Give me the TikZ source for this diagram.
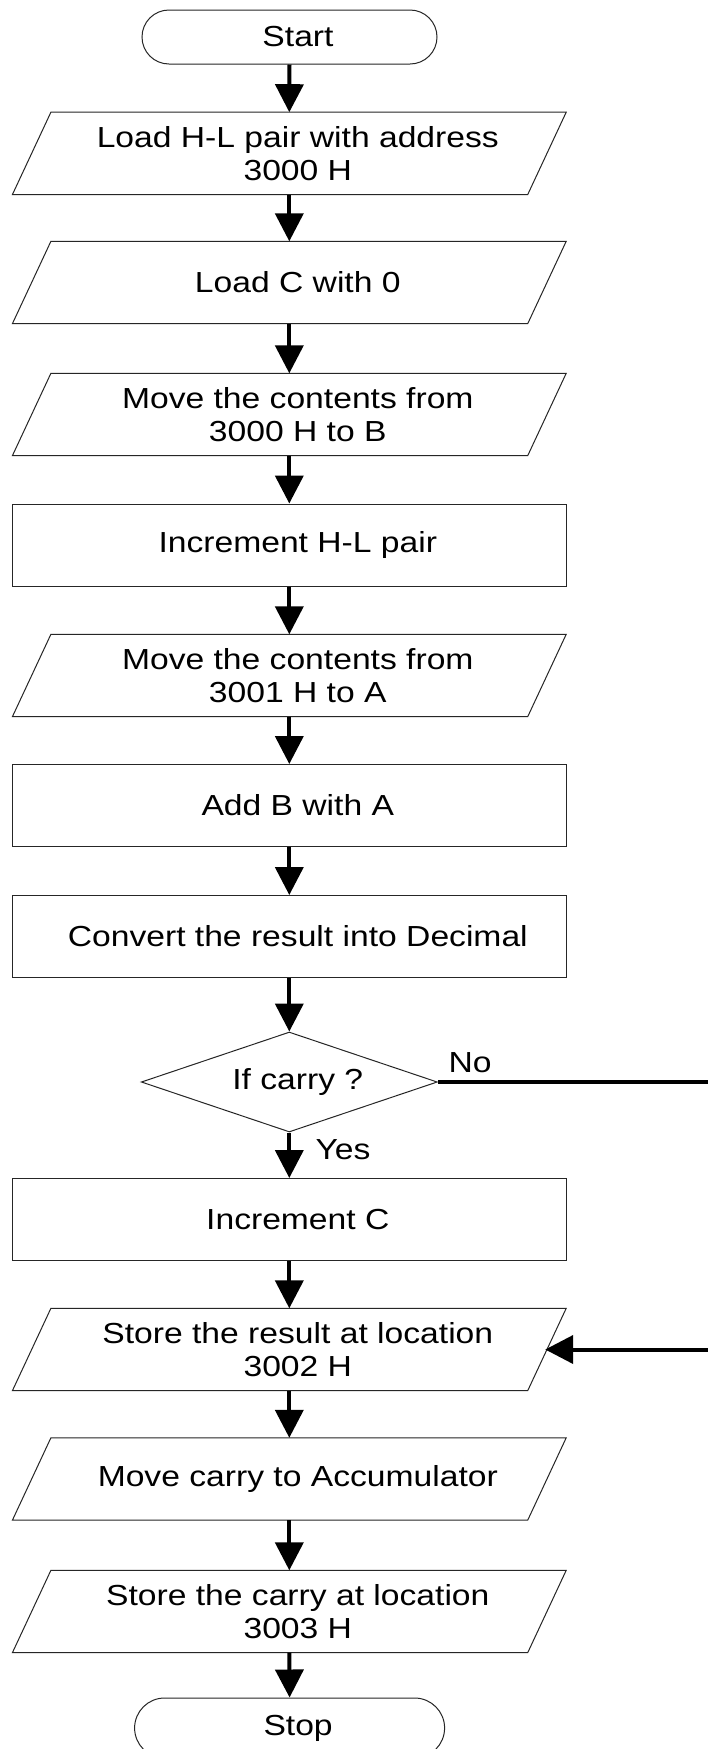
\documentclass[tikz,border=0pt]{standalone}
\usepackage{fontspec}
\setmainfont{Liberation Sans}[FakeStretch=1.16]
\usetikzlibrary{arrows.meta,calc,shapes.geometric}
\newcommand\tl{\hspace*{17pt}}
\begin{document}
\begin{tikzpicture}[x=1pt,y=1pt,
  every node/.style={font=\fontsize{29}{33}\selectfont, align=center, inner sep=0pt},
  shapeline/.style={draw=black!85, line width=1pt},
  term/.style={shapeline, rounded corners=27pt, minimum height=54pt, minimum width=295pt},
  proc/.style={shapeline, minimum width=553.4pt, minimum height=82pt},
  io/.style={minimum width=553.4pt, minimum height=82pt,
    append after command={\pgfextra{\draw[shapeline]
      ($(\tikzlastnode.north west)+(38.5pt,0pt)$) -- (\tikzlastnode.north east)
      -- ($(\tikzlastnode.south east)+(-38.5pt,0pt)$) -- (\tikzlastnode.south west) -- cycle;}}},
  dec/.style={shapeline, diamond, minimum width=296pt, minimum height=100pt, aspect=2.96},
  flow/.style={line width=4pt, -{Triangle[width=28pt,length=28pt]}},
]
\useasboundingbox (0,0) rectangle (708,-1749);
\fill[white] (0,0) rectangle (708,-1749);

\node[term] (start) at (289.5,-37) {\tl Start};
\node[io] (p1) at (289.3,-153.4) {\tl Load H-L pair with address\\\tl 3000 H};
\node[io] (p2) at (289.3,-282.5) {\tl Load C with 0};
\node[io] (p3) at (289.3,-414.5) {\tl Move the contents from\\\tl 3000 H to B};
\node[proc] (r1) at (289.3,-545) {\tl Increment H-L pair};
\node[io] (p4) at (289.3,-675.5) {\tl Move the contents from\\\tl 3001 H to A};
\node[proc] (r2) at (289.3,-805.5) {\tl Add B with A};
\node[proc] (r3) at (289.3,-936.5) {\tl Convert the result into Decimal};
\node[dec] (d) at (289.3,-1082) {\tl If carry ?};
\node[proc] (r4) at (289.3,-1219.5) {\tl Increment C};
\node[io] (p5) at (289.3,-1349.5) {\tl Store the result at location\\\tl 3002 H};
\node[io] (p6) at (289.3,-1479) {\tl Move carry to Accumulator};
\node[io] (p7) at (289.3,-1611.5) {\tl Store the carry at location\\\tl 3003 H};
\node[term, rounded corners=30pt, minimum height=60pt, minimum width=310pt] (stop) at (289.6,-1728) {\tl Stop};

\node (nolab) at (470,-1063) {No};
\node (yeslab) at (343,-1150) {Yes};
\coordinate (edge) at (712,0);

\draw[flow] (start.south) -- (p1.north);
\draw[flow] (p1.south) -- (p2.north);
\draw[flow] (p2.south) -- (p3.north);
\draw[flow] (p3.south) -- (r1.north);
\draw[flow] (r1.south) -- (p4.north);
\draw[flow] (p4.south) -- (r2.north);
\draw[flow] (r2.south) -- (r3.north);
\draw[flow] (r3.south) -- (d.north);
\draw[flow] (d.south) -- (r4.north);
\draw[flow] (r4.south) -- (p5.north);
\draw[flow] (p5.south) -- (p6.north);
\draw[flow] (p6.south) -- (p7.north);
\draw[flow] (p7.south) -- (stop.north);
\draw[flow] (d.east) -- (d.east -| edge) |- ($(p5.east)+(-21pt,0pt)$);
\end{tikzpicture}
\end{document}
